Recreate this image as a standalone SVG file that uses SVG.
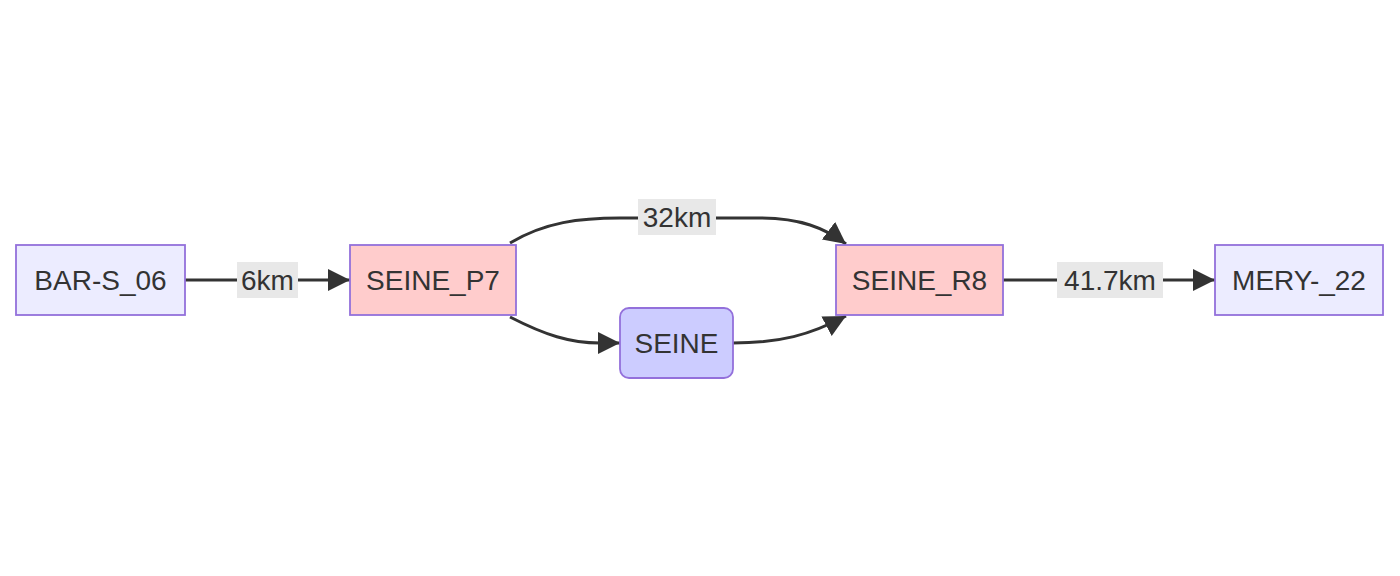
<svg xmlns="http://www.w3.org/2000/svg" width="1400" height="576" viewBox="0 0 1400 576">
<style>
.node rect{stroke:#9370DB;stroke-width:1.8}
.blue rect{fill:#ECECFF}
.pink rect{fill:#FFCCCC}
.mid rect{fill:#CCCCFF}
text{font-family:"Liberation Sans",Arial,sans-serif;font-size:28px;fill:#333;text-anchor:middle;dominant-baseline:central}
.edge{fill:none;stroke:#333;stroke-width:3}
.lbl{fill:#e8e8e8}
</style>
<defs>
<marker id="arr" viewBox="0 0 10 10" refX="10" refY="5" markerUnits="userSpaceOnUse" markerWidth="22" markerHeight="22" orient="auto">
<path d="M0,0 L10,5 L0,10 z" fill="#333"/>
</marker>
</defs>
<rect width="1400" height="576" fill="#fff"/>
<g id="connectors">
<path class="edge" d="M185,280 L350,280" marker-end="url(#arr)"/>
<path class="edge" d="M510,243 C545,222 580,218 620,218 L760,218 C800,218 825,228 846,244" marker-end="url(#arr)"/>
<path class="edge" d="M510,317 C545,335 570,343 600,343 L620,343" marker-end="url(#arr)"/>
<path class="edge" d="M733,343 C780,343 810,335 846,316" marker-end="url(#arr)"/>
<path class="edge" d="M1003,280 L1215,280" marker-end="url(#arr)"/>
<g id="label-6km"><rect class="lbl" x="237" y="262" width="61" height="36"/><text x="267.5" y="280">6km</text></g>
<g id="label-32km"><rect class="lbl" x="638" y="199" width="78" height="36"/><text x="677" y="217">32km</text></g>
<g id="label-41km"><rect class="lbl" x="1057" y="262" width="106" height="36"/><text x="1110" y="280">41.7km</text></g>
</g>
<g id="BAR-S_06" class="node blue"><rect x="16" y="245" width="169" height="70"/><text x="100.5" y="280">BAR-S_06</text></g>
<g id="SEINE_P7" class="node pink"><rect x="350" y="245" width="166" height="70"/><text x="433" y="280">SEINE_P7</text></g>
<g id="SEINE" class="node mid"><rect x="620" y="308" width="113" height="70" rx="9" ry="9"/><text x="676.5" y="343">SEINE</text></g>
<g id="SEINE_R8" class="node pink"><rect x="836" y="245" width="167" height="70"/><text x="919.5" y="280">SEINE_R8</text></g>
<g id="MERY-_22" class="node blue"><rect x="1215" y="245" width="168" height="70"/><text x="1299" y="280">MERY-_22</text></g>
</svg>
